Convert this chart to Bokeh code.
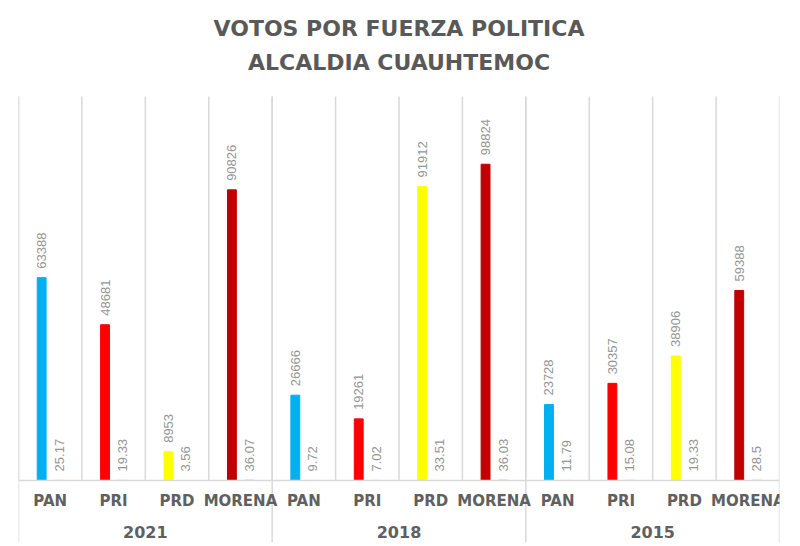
import math
from bokeh.plotting import figure
from bokeh.models import FactorRange, Range1d, ColumnDataSource, Span
from bokeh.transform import dodge
from bokeh.core.properties import value
from bokeh.embed import file_html
from bokeh.resources import INLINE

title_lines = ["VOTOS POR FUERZA POLITICA", "ALCALDIA CUAUHTEMOC"]
years = ["2021", "2018", "2015"]
parties = ["PAN", "PRI", "PRD", "MORENA"]
party_colors = ["#00B0F0", "#FF0000", "#FFFF00", "#C00000"]

votes_2021 = [63388, 48681, 8953, 90826]
votes_2018 = [26666, 19261, 91912, 98824]
votes_2015 = [23728, 30357, 38906, 59388]

pct_2021 = [25.17, 19.33, 3.56, 36.07]
pct_2018 = [9.72, 7.02, 33.51, 36.03]
pct_2015 = [11.79, 15.08, 19.33, 28.5]

YMAX = 120000
factors = [(y, pt) for y in years for pt in parties]
votes = votes_2021 + votes_2018 + votes_2015
pcts = pct_2021 + pct_2018 + pct_2015
cols = party_colors * len(years)

# vertical layout in pixels: title band, value area, category-label band
PX_TITLE, PX_ABOVE, PX_BELOW = 96, 384, 62
YMIN = -YMAX * PX_BELOW / PX_ABOVE
YTOP = YMAX * (PX_ABOVE + PX_TITLE) / PX_ABOVE

src = ColumnDataSource(dict(
    x=factors, votes=votes, pct=pcts, color=cols,
    vlab=[str(v) for v in votes], plab=[f"{v:g}" for v in pcts],
))

xr = FactorRange(factors=factors, factor_padding=0, group_padding=0, range_padding=0)
p = figure(x_range=xr, y_range=Range1d(YMIN, YTOP), width=784, height=546,
           output_backend="svg", toolbar_location=None, title=None,
           min_border_left=18, min_border_right=5, min_border_top=0, min_border_bottom=4)
p.outline_line_color = None
p.xgrid.grid_line_color = None
p.ygrid.grid_line_color = None
p.yaxis.visible = False
p.xaxis.visible = False

GRID = "#D9D9D9"
# boundaries between categories (value area only)
gsrc = ColumnDataSource(dict(x=factors, y0=[0] * len(factors), y1=[YMAX] * len(factors)))
p.segment(x0=dodge("x", -0.5, range=xr), x1=dodge("x", -0.5, range=xr), y0="y0", y1="y1",
          source=gsrc, line_color=GRID, line_width=1.5)
# group separators (extend through the label area)
firsts = [(y, parties[0]) for y in years]
ssrc = ColumnDataSource(dict(x=firsts, y0=[YMIN] * len(firsts), y1=[YMAX] * len(firsts)))
p.segment(x0=dodge("x", -0.5, range=xr), x1=dodge("x", -0.5, range=xr), y0="y0", y1="y1",
          source=ssrc, line_color=GRID, line_width=1.5)
esrc = ColumnDataSource(dict(x=[factors[-1]], y0=[YMIN], y1=[YMAX]))
p.segment(x0=dodge("x", 0.5, range=xr), x1=dodge("x", 0.5, range=xr), y0="y0", y1="y1",
          source=esrc, line_color=GRID, line_width=1.5)
p.add_layout(Span(location=0, dimension="width", line_color=GRID, line_width=1.5))

# bars
p.vbar(x=dodge("x", -0.135, range=xr), top="votes", width=0.14, fill_color="color",
       line_color="color", source=src)
p.vbar(x=dodge("x", 0.14, range=xr), top="pct", width=0.14, fill_color="color",
       line_color="color", source=src)

# value labels
p.text(x=dodge("x", -0.135, range=xr), y="votes", text="vlab", angle=math.pi / 2,
       text_align="left", text_baseline="middle", y_offset=-9,
       text_font=value("Liberation Sans"), text_font_size="13px", text_color="#959595",
       source=src)
p.text(x=dodge("x", 0.14, range=xr), y="pct", text="plab", angle=math.pi / 2,
       text_align="left", text_baseline="middle", y_offset=-9,
       text_font=value("Liberation Sans"), text_font_size="13px", text_color="#959595",
       source=src)

# category labels (party) and group labels (year)
lsrc = ColumnDataSource(dict(x=factors, y=[0] * len(factors), t=[f[1] for f in factors]))
p.text(x="x", y="y", text="t", source=lsrc, y_offset=20, text_align="center",
       text_baseline="middle", text_font=value("DejaVu Sans"), text_font_size="15px",
       text_font_style="bold", text_color="#606060")
ysrc = ColumnDataSource(dict(x=years, y=[0] * len(years), t=years))
p.text(x="x", y="y", text="t", source=ysrc, y_offset=51, text_align="center",
       text_baseline="middle", text_font=value("DejaVu Sans"), text_font_size="16px",
       text_font_style="bold", text_color="#606060")

# two-line title, centred over the middle group, in the band above the value area
tsrc = ColumnDataSource(dict(x=[years[1]] * 2, y=[YMAX] * 2, t=title_lines, off=[-68, -34]))
p.text(x="x", y="y", text="t", y_offset="off", source=tsrc, text_align="center",
       text_baseline="middle", text_font=value("DejaVu Sans"), text_font_size="22px",
       text_font_style="bold", text_color="#595959")

open("out.html", "w").write(file_html(p, INLINE))
